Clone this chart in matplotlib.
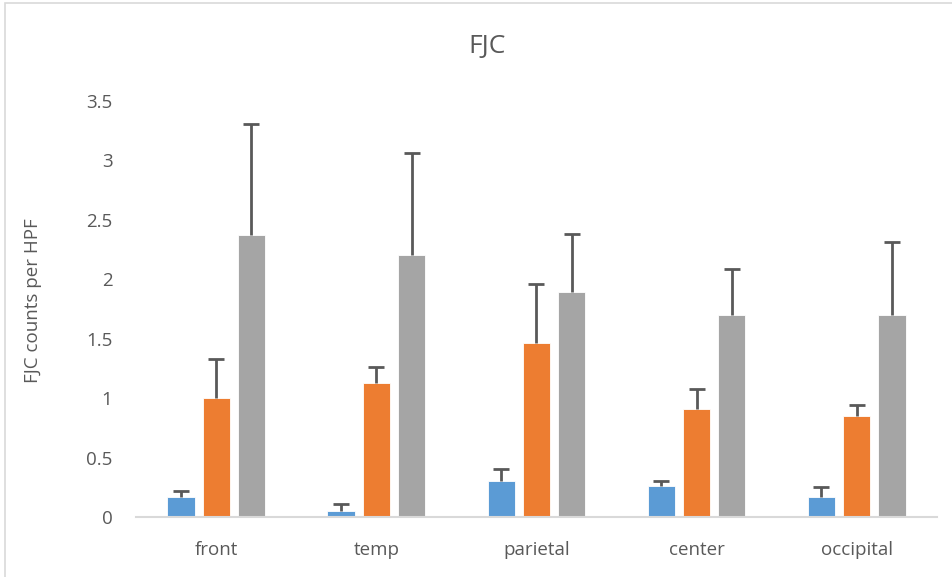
import numpy as np
import matplotlib
matplotlib.use('Agg')
from matplotlib import pyplot as plt
from matplotlib.patches import Rectangle

categories = ['front', 'temp', 'parietal', 'center', 'occipital']
series_1 = [0.17, 0.05, 0.30, 0.26, 0.17]
series_2 = [1.00, 1.13, 1.46, 0.91, 0.85]
series_3 = [2.37, 2.20, 1.89, 1.70, 1.70]
err_1 = [0.05, 0.06, 0.10, 0.04, 0.08]
err_2 = [0.33, 0.13, 0.50, 0.17, 0.09]
err_3 = [0.94, 0.86, 0.49, 0.39, 0.61]
yticks = [0, 0.5, 1, 1.5, 2, 2.5, 3, 3.5]
ytick_labels = ['0', '0.5', '1', '1.5', '2', '2.5', '3', '3.5']

colors = ['#5B9BD5', '#ED7D31', '#A5A5A5']
plt.rcParams['font.family'] = ['Open Sans', 'DejaVu Sans']

fig = plt.figure(figsize=(9.52, 5.77), dpi=100)
# light outer frame of the chart area
fig.patches.append(Rectangle((5 / 952, -0.1), 1.2, 1 - 3 / 577 + 0.1,
                             transform=fig.transFigure, fill=False,
                             edgecolor='#d9d9d9', linewidth=1.2))
ax = fig.add_axes([0.143, 0.104, 0.841, 0.721])

x = np.arange(len(categories))
w = 0.17
step = 0.22
for i, (vals, errs) in enumerate([(series_1, err_1), (series_2, err_2), (series_3, err_3)]):
    pos = x + (i - 1) * step
    ax.bar(pos, vals, width=w, color=colors[i], edgecolor='white', linewidth=0.6, zorder=2)
    eb = ax.errorbar(pos, vals, yerr=[np.zeros(len(errs)), errs], fmt='none',
                     ecolor='#595959', elinewidth=2, capsize=6, capthick=2, zorder=3)
    # only the upper cap, as in the original
    eb[1][0].set_visible(False)

ax.set_xlim(-0.5, len(categories) - 0.5)
ax.set_ylim(0, 3.5)
ax.set_yticks(yticks)
ax.set_yticklabels(ytick_labels)
ax.set_xticks(x)
ax.set_xticklabels(categories)
ax.tick_params(axis='both', length=0, labelsize=13.5, labelcolor='#595959')
ax.tick_params(axis='x', pad=17)
ax.tick_params(axis='y', pad=17)
for s in ['top', 'right', 'left']:
    ax.spines[s].set_visible(False)
ax.spines['bottom'].set_color('#d9d9d9')
ax.spines['bottom'].set_linewidth(1.5)

ax.set_ylabel('FJC counts per HPF', fontsize=13.5, color='#595959')
ax.yaxis.set_label_coords(-0.117, 0.52)
fig.text(487 / 952, 1 - 47 / 577, 'FJC', ha='center', va='center',
         fontsize=19, color='#595959')

fig.savefig('out.png', dpi=100)
